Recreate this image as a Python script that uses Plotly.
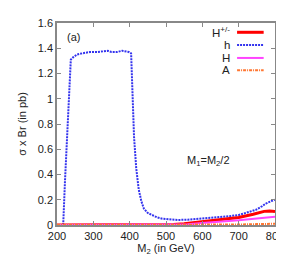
import plotly.graph_objects as go

# h (blue dotted)
h_x = [200, 210, 217, 222, 228, 233, 238, 245, 255, 270, 290, 311, 330, 340, 350, 365, 379, 390, 398, 404,
       408, 412, 418, 425, 432, 439, 450, 463, 476, 490, 504, 520, 533, 560, 600, 646, 675, 701, 725, 747,
       765, 775, 790, 800]
h_y = [0, 0, 0, 0.35, 0.7, 1.0, 1.31, 1.33, 1.35, 1.36, 1.37, 1.37, 1.375, 1.38, 1.37, 1.37, 1.38, 1.375, 1.37, 1.36,
       1.0, 0.7, 0.45, 0.28, 0.19, 0.13, 0.095, 0.075, 0.06, 0.05, 0.045, 0.042, 0.04, 0.042, 0.05, 0.06, 0.07, 0.08, 0.1, 0.12,
       0.15, 0.17, 0.19, 0.2]
# H+/- (red solid)
hc_x = [200, 500, 520, 550, 580, 620, 650, 700, 740, 770, 785, 800]
hc_y = [0, 0, 0.003, 0.01, 0.02, 0.03, 0.04, 0.06, 0.085, 0.108, 0.11, 0.106]
# H (magenta solid)
H_x = [200, 530, 560, 600, 650, 700, 750, 780, 800]
H_y = [0, 0, 0.005, 0.015, 0.025, 0.037, 0.052, 0.062, 0.065]
# A (orange dash-dot)
A_x = [200, 600, 700, 750, 800]
A_y = [0, 0, 0.004, 0.007, 0.01]

x_ticks = [200, 300, 400, 500, 600, 700, 800]
y_ticks = [0, 0.2, 0.4, 0.6, 0.8, 1, 1.2, 1.4, 1.6]
y_tick_text = ["0", "0.2", "0.4", "0.6", "0.8", "1", "1.2", "1.4", "1.6"]

legend_names = ["H<sup>+/-</sup>", "h", "H", "A"]
colors = ["#ff0000", "#3333ee", "#ff44ff", "#ff7733"]
dashes = ["solid", "2px,1px", "solid", "3px,1px,1px,1px"]
widths = [3, 2, 2, 2]
legend_y = [0.954, 0.891, 0.827, 0.766]

font = dict(family="Liberation Sans, Arial, sans-serif", size=11, color="#222222")

fig = go.Figure()
series = [(hc_x, hc_y), (h_x, h_y), (H_x, H_y), (A_x, A_y)]
for i in [1, 0, 2, 3]:
    xs, ys = series[i]
    fig.add_trace(go.Scatter(x=xs, y=ys, mode="lines", showlegend=False,
                             line=dict(color=colors[i], dash=dashes[i], width=widths[i])))

# manual legend (text left of sample)
for i, name in enumerate(legend_names):
    yy = legend_y[i]
    fig.add_annotation(xref="paper", yref="paper", x=0.80, y=yy, text=name, showarrow=False,
                       xanchor="right", yanchor="middle", borderpad=0,
                       font=dict(family=font["family"], size=11.5, color="#222222"))
    fig.add_shape(type="line", xref="paper", yref="paper", x0=0.826, x1=0.948, y0=yy, y1=yy,
                  line=dict(color=colors[i], dash=dashes[i], width=widths[i]))

fig.add_annotation(xref="paper", yref="paper", x=0.035, y=0.93, text="(a)", showarrow=False,
                   xanchor="left", yanchor="middle", font=font)
fig.add_annotation(xref="paper", yref="paper", x=0.585, y=0.317, text="M<sub>1</sub>=M<sub>2</sub>/2", showarrow=False,
                   xanchor="left", yanchor="middle", font=font)

fig.update_layout(
    width=284, height=256,
    margin=dict(l=49, r=17, t=15, b=39, autoexpand=False),
    paper_bgcolor="white", plot_bgcolor="white",
    font=font,
    xaxis=dict(range=[200, 800], tickvals=x_ticks, ticks="inside", ticklen=4, tickcolor="#888888", automargin=False,
               showline=True, linecolor="#888888", linewidth=1.5, mirror="ticks", showgrid=False, zeroline=False,
               title=dict(text="M<sub>2</sub> (in GeV)", standoff=1, font=font)),
    yaxis=dict(range=[0, 1.6], tickvals=y_ticks, ticktext=y_tick_text, ticks="inside", ticklen=4, tickcolor="#888888", automargin=False,
               showline=True, linecolor="#888888", linewidth=1.5, mirror="ticks", showgrid=False, zeroline=False,
               title=dict(text="σ x Br (in pb)", standoff=9, font=font)),
)

fig.write_html("out.html")
